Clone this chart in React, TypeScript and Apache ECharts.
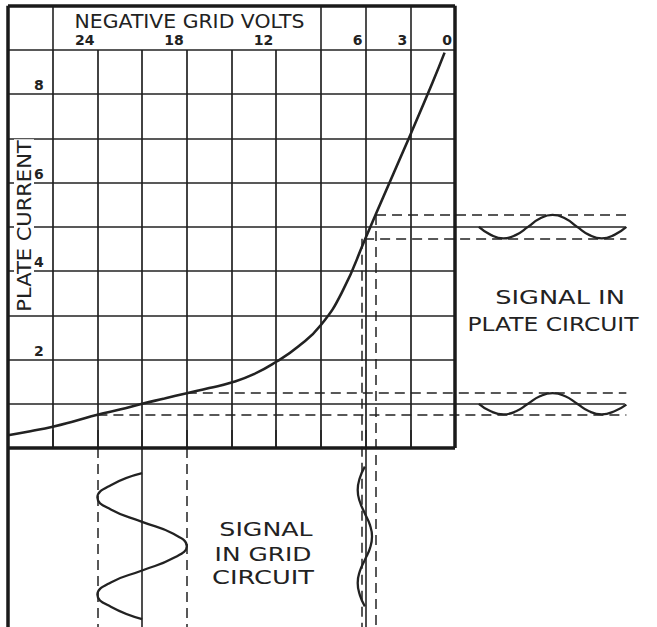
import React, { useEffect, useRef } from 'react';
import * as echarts from 'echarts';

// ---- axes (negative grid volts / plate current, mA) ----
const voltMin = -30;
const voltMax = 0;
const voltStep = 3;
const currentMin = 0;
const currentMax = 9;
const currentStep = 1;
const voltTickLabels = [-24, -18, -12, -6, -3, 0];
const currentTickLabels = [2, 4, 6, 8];

// extended drawing area (header above, grid-signal panel below, plate-signal panel right)
const headerTop = 10;
const extentVoltMax = 13.5;
const extentCurrentMin = -4.2;

// ---- characteristic curve ----
const curveVolts = [-30, -28.5, -27, -25.5, -24, -22.5, -21, -19.5, -18, -16.5, -15, -13.5, -12, -10.5, -9, -7.5, -6, -4.5, -3, -1.5, -0.7];
const curveCurrent = [0.29, 0.38, 0.48, 0.61, 0.75, 0.87, 1.0, 1.12, 1.24, 1.355, 1.48, 1.67, 1.95, 2.3, 2.78, 3.58, 4.75, 5.92, 7.08, 8.27, 8.94];

// ---- grid signals (drawn vertically below the plot) ----
const bigGridVolts = [-21, -23.1, -24, -23.1, -21, -18.9, -18, -18.9, -21, -23.1, -24, -23.1, -21];
const bigGridPos = [-0.57, -0.84, -1.12, -1.39, -1.67, -1.94, -2.22, -2.49, -2.77, -3.04, -3.32, -3.59, -3.87];
const smallGridVolts = [-6.05, -6.39, -6.53, -6.39, -6.05, -5.71, -5.57, -5.71, -6.05, -6.39, -6.53, -6.39, -6.05];
const smallGridPos = [-0.42, -0.68, -0.95, -1.21, -1.48, -1.74, -2.0, -2.27, -2.53, -2.79, -3.05, -3.32, -3.58];

// ---- plate signals (drawn horizontally right of the plot) ----
const platePos = [1.6, 2.4, 3.25, 4.1, 4.9, 5.7, 6.55, 7.4, 8.2, 9.0, 9.85, 10.7, 11.5];
const upperPlateCurrent = [5.0, 4.82, 4.74, 4.82, 5.0, 5.19, 5.27, 5.19, 5.0, 4.82, 4.74, 4.82, 5.0];
const lowerPlateCurrent = [1.0, 0.83, 0.76, 0.83, 1.0, 1.17, 1.24, 1.17, 1.0, 0.83, 0.76, 0.83, 0.98];

// ---- guide lines ----
const headerFullLines = [-27, -9, -6, -3];
const frameSegments = [
  [[voltMin, headerTop], [voltMax, headerTop]],
  [[voltMax, headerTop], [voltMax, currentMin]],
  [[voltMin, currentMin], [voltMax, currentMin]],
  [[voltMin, headerTop], [voltMin, extentCurrentMin]],
];
const solidGuides = [
  [[-21, 0], [-21, extentCurrentMin]],
  [[-6, 0], [-6, extentCurrentMin]],
  [[0, 1], [11.4, 1]],
  [[0, 5], [11.4, 5]],
];
const dashedGuides = [
  [[-24, 0], [-24, extentCurrentMin]],
  [[-18, 0], [-18, extentCurrentMin]],
  [[-6.25, 4.73], [-6.25, extentCurrentMin]],
  [[-5.3, 5.27], [-5.3, extentCurrentMin]],
  [[-24, 0.75], [11.5, 0.75]],
  [[-18, 1.25], [11.5, 1.25]],
  [[-6.1, 4.73], [11.5, 4.73]],
  [[-5.3, 5.27], [11.5, 5.27]],
];

const INK = '#222';
const FONT = '"DejaVu Sans", sans-serif';

export default function App() {
  const ref = useRef<HTMLDivElement>(null);

  useEffect(() => {
    if (!ref.current) return;
    const chart = echarts.init(ref.current, undefined, { renderer: 'svg' });

    const plotLeft = 8;
    const plotTop = 50;
    const plotWidth = 447;
    const plotHeight = 398;
    const pxPerVolt = plotWidth / (voltMax - voltMin);
    const pxPerMA = plotHeight / (currentMax - currentMin);

    const zip = (a: number[], b: number[]) => a.map((v, i) => [v, b[i]]);
    const headerSegs = headerFullLines.map((v) => [[v, currentMax], [v, headerTop]]);

    const waveSeries = (data: number[][]) => ({
      type: 'line',
      xAxisIndex: 1,
      yAxisIndex: 1,
      data,
      smooth: 0.5,
      showSymbol: false,
      clip: false,
      lineStyle: { color: INK, width: 2.3 },
      z: 5,
    });

    const textEl = (text: string, x: number, y: number, size: number, scaleX: number, extra: any = {}) => ({
      type: 'text',
      x,
      y,
      scaleX,
      z: 50,
      ...extra,
      style: {
        text,
        font: `${size}px ${FONT}`,
        fill: INK,
        align: 'center',
        verticalAlign: 'middle',
        ...(extra.style || {}),
      },
    });

    chart.setOption({
      animation: false,
      backgroundColor: '#fff',
      grid: [
        { left: plotLeft, top: plotTop, width: plotWidth, height: plotHeight, outerBoundsMode: 'none' },
        {
          left: plotLeft,
          top: plotTop + (currentMax - headerTop) * pxPerMA,
          width: (extentVoltMax - voltMin) * pxPerVolt,
          height: (headerTop - extentCurrentMin) * pxPerMA,
          outerBoundsMode: 'none',
        },
      ],
      xAxis: [
        {
          gridIndex: 0,
          type: 'value',
          min: voltMin,
          max: voltMax,
          interval: voltStep,
          position: 'top',
          axisLine: { show: false },
          axisTick: { show: true, inside: false, length: 18, lineStyle: { color: INK, width: 1.6 } },
          axisLabel: {
            show: true,
            margin: 3,
            align: 'right',
            verticalAlign: 'bottom',
            padding: [0, 3, 0, 0],
            color: INK,
            fontFamily: FONT,
            fontWeight: 'bold',
            fontSize: 14,
            formatter: (v: number) => (voltTickLabels.some((t) => Math.abs(t - v) < 1e-6) ? String(Math.abs(v)) : ''),
          },
          splitLine: { show: true, lineStyle: { color: INK, width: 1.7 } },
        },
        { gridIndex: 1, type: 'value', min: voltMin, max: extentVoltMax, show: false },
      ],
      yAxis: [
        {
          gridIndex: 0,
          type: 'value',
          min: currentMin,
          max: currentMax,
          interval: currentStep,
          axisLine: { show: false },
          axisTick: { show: false },
          axisLabel: {
            show: true,
            inside: true,
            margin: 26,
            verticalAlign: 'bottom',
            padding: [0, 0, 2, 0],
            color: INK,
            fontFamily: FONT,
            fontWeight: 'bold',
            fontSize: 14,
            formatter: (v: number) => (currentTickLabels.some((t) => Math.abs(t - v) < 1e-6) ? String(v) : ''),
          },
          splitLine: { show: true, lineStyle: { color: INK, width: 1.7 } },
        },
        { gridIndex: 1, type: 'value', min: extentCurrentMin, max: headerTop, show: false },
      ],
      series: [
        {
          type: 'line',
          xAxisIndex: 0,
          yAxisIndex: 0,
          data: zip(curveVolts, curveCurrent),
          smooth: 0.5,
          showSymbol: false,
          lineStyle: { color: INK, width: 2.6 },
          z: 6,
        },
        {
          type: 'lines',
          coordinateSystem: 'cartesian2d',
          xAxisIndex: 1,
          yAxisIndex: 1,
          data: frameSegments.map((c) => ({ coords: c })),
          lineStyle: { color: '#1a1a1a', width: 3.5, opacity: 1 },
          z: 8,
        },
        {
          type: 'lines',
          coordinateSystem: 'cartesian2d',
          xAxisIndex: 1,
          yAxisIndex: 1,
          data: [...headerSegs, ...solidGuides].map((c) => ({ coords: c })),
          lineStyle: { color: INK, width: 1.6, opacity: 1 },
          z: 4,
        },
        {
          type: 'lines',
          coordinateSystem: 'cartesian2d',
          xAxisIndex: 1,
          yAxisIndex: 1,
          data: dashedGuides.map((c) => ({ coords: c })),
          lineStyle: { color: INK, width: 1.5, type: [10, 6], opacity: 1 },
          z: 4,
        },
        waveSeries(zip(bigGridVolts, bigGridPos)),
        waveSeries(zip(smallGridVolts, smallGridPos)),
        waveSeries(zip(platePos, upperPlateCurrent)),
        waveSeries(zip(platePos, lowerPlateCurrent)),
      ],
      graphic: [
        textEl('NEGATIVE GRID VOLTS', 189.5, 21, 20, 1.02),
        textEl('PLATE CURRENT', 24, 226, 20, 1.05, {
          rotation: Math.PI / 2,
          style: { backgroundColor: '#fff', lineHeight: 20, padding: [0, 1] },
        }),
        textEl('SIGNAL IN', 560, 297, 19, 1.35),
        textEl('PLATE CIRCUIT', 553, 324, 19, 1.23),
        textEl('SIGNAL', 266, 529, 19, 1.33),
        textEl('IN GRID', 263, 554, 19, 1.31),
        textEl('CIRCUIT', 263, 577, 19, 1.35),
      ],
    });

    return () => chart.dispose();
  }, []);

  return (
    <div
      ref={ref}
      style={{ position: 'absolute', left: 0, top: 0, width: 657, height: 627, background: '#fff' }}
    />
  );
}
